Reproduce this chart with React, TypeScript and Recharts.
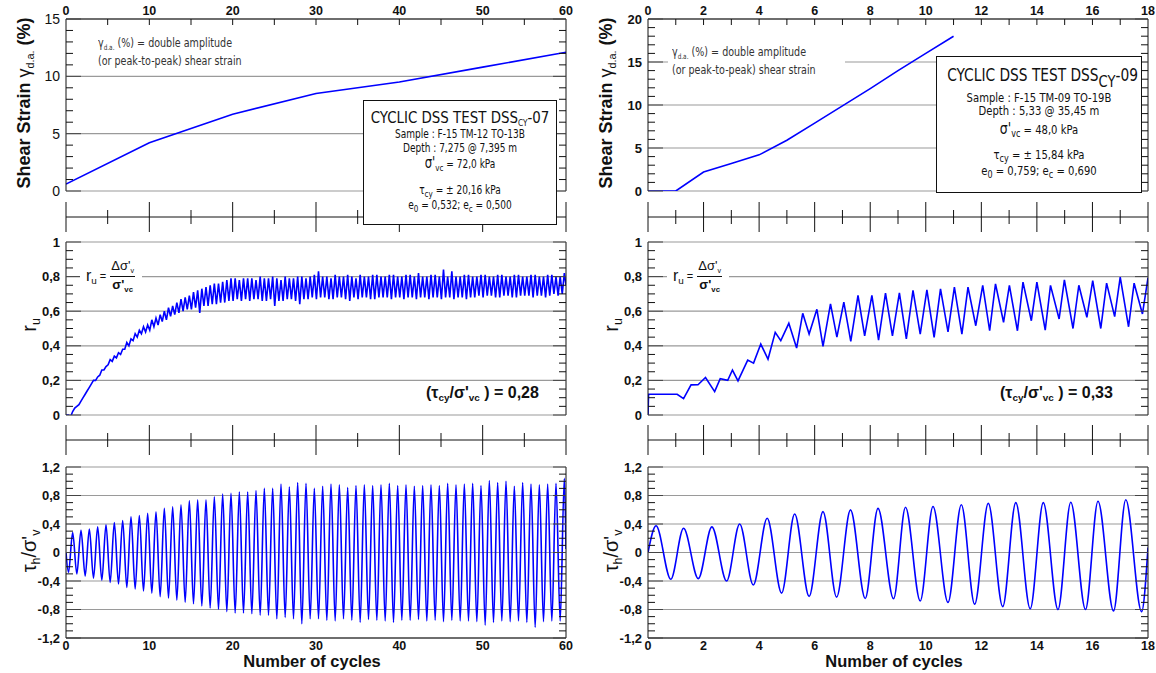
import React from "react";
import { LineChart, Line, XAxis, YAxis, CartesianGrid } from "recharts";

// ---------- DSS CY-07 (left) ----------
const strainCyclesL = [0, 10, 20, 30, 40, 50, 60];
const strainL = [0.6, 4.2, 6.7, 8.5, 9.5, 10.8, 12.1];

// r_u, two pulses per cycle: low (start of half cycle) and high (peak of half cycle)
const ruLowL = [
  0.0, -0.01, 0.04, 0.06, 0.1, 0.14, 0.18, 0.2, 0.23, 0.26,
  0.29, 0.31, 0.33, 0.35, 0.38, 0.4, 0.43, 0.45, 0.47, 0.48,
  0.49, 0.51, 0.52, 0.54, 0.55, 0.57, 0.58, 0.59, 0.6, 0.61,
  0.61, 0.62, 0.59, 0.63, 0.63, 0.64, 0.64, 0.65, 0.65, 0.66,
  0.66, 0.67, 0.66, 0.67, 0.66, 0.67, 0.67, 0.66, 0.66, 0.67,
  0.63, 0.66, 0.66, 0.67, 0.67, 0.66, 0.64, 0.67, 0.67, 0.68,
  0.67, 0.68, 0.68, 0.67, 0.67, 0.68, 0.68, 0.67, 0.66, 0.68,
  0.67, 0.68, 0.68, 0.67, 0.67, 0.68, 0.68, 0.68, 0.67, 0.68,
  0.68, 0.67, 0.68, 0.68, 0.67, 0.68, 0.68, 0.67, 0.68, 0.68,
  0.67, 0.68, 0.68, 0.67, 0.68, 0.68, 0.67, 0.68, 0.68, 0.69,
  0.68, 0.69, 0.69, 0.68, 0.68, 0.69, 0.69, 0.68, 0.68, 0.69,
  0.69, 0.69, 0.68, 0.69, 0.69, 0.68, 0.69, 0.7, 0.69, 0.7,
];
const ruHighL = [
  0.0, 0.02, 0.05, 0.08, 0.12, 0.16, 0.2, 0.22, 0.26, 0.28,
  0.32, 0.34, 0.36, 0.38, 0.42, 0.44, 0.47, 0.49, 0.51, 0.52,
  0.55, 0.56, 0.58, 0.6, 0.62, 0.63, 0.65, 0.67, 0.68, 0.69,
  0.71, 0.72, 0.73, 0.74, 0.75, 0.76, 0.76, 0.77, 0.78, 0.79,
  0.79, 0.78, 0.79, 0.79, 0.79, 0.78, 0.8, 0.79, 0.79, 0.8,
  0.79, 0.78, 0.8, 0.79, 0.79, 0.8, 0.8, 0.79, 0.8, 0.81,
  0.83, 0.8, 0.8, 0.79, 0.81, 0.8, 0.8, 0.81, 0.8, 0.79,
  0.81, 0.8, 0.8, 0.81, 0.81, 0.8, 0.8, 0.81, 0.81, 0.8,
  0.8, 0.81, 0.81, 0.8, 0.82, 0.8, 0.8, 0.81, 0.81, 0.8,
  0.84, 0.8, 0.83, 0.8, 0.8, 0.81, 0.81, 0.8, 0.8, 0.81,
  0.81, 0.8, 0.8, 0.81, 0.81, 0.8, 0.8, 0.81, 0.81, 0.8,
  0.8, 0.81, 0.81, 0.8, 0.8, 0.81, 0.81, 0.8, 0.8, 0.82,
];

// tau_h / sigma'_v, one trough and one peak per cycle
const tauTroughL = [
  -0.28, -0.3, -0.33, -0.36, -0.39, -0.42, -0.44, -0.49, -0.51, -0.54,
  -0.57, -0.62, -0.64, -0.67, -0.7, -0.72, -0.75, -0.78, -0.8, -0.83,
  -0.85, -0.85, -0.86, -0.88, -0.88, -0.93, -0.91, -0.93, -1.0, -0.93,
  -0.93, -0.95, -0.96, -0.93, -0.95, -0.98, -0.94, -0.95, -0.96, -0.98,
  -0.95, -0.95, -0.94, -0.96, -0.95, -0.97, -0.95, -0.96, -0.96, -0.97,
  -1.02, -0.98, -0.96, -0.97, -0.96, -0.98, -1.05, -0.97, -0.96, -0.96,
];
const tauPeakL = [
  0.28, 0.31, 0.33, 0.36, 0.39, 0.42, 0.45, 0.5, 0.52, 0.55,
  0.57, 0.62, 0.64, 0.67, 0.73, 0.74, 0.74, 0.78, 0.82, 0.83,
  0.85, 0.85, 0.87, 0.9, 0.9, 0.96, 0.92, 0.98, 0.97, 0.9,
  0.93, 0.96, 0.95, 0.91, 0.94, 0.95, 0.94, 0.95, 0.97, 0.94,
  0.95, 0.93, 0.94, 0.95, 0.94, 0.97, 0.95, 0.96, 0.97, 0.94,
  1.01, 0.98, 1.0, 0.93, 0.98, 0.96, 0.95, 0.96, 0.97, 1.04,
];

// ---------- DSS CY-09 (right) ----------
const strainCyclesR = [0, 1, 2, 3, 4, 5, 6, 7, 8, 9, 10, 11];
const strainR = [0, 0, 2.2, 3.2, 4.2, 5.9, 7.9, 9.9, 11.9, 14.0, 16.0, 18.0];

const ruR: [number, number][] = [
  [0, 0], [0.02, 0.12], [1.05, 0.12], [1.28, 0.095], [1.55, 0.174], [1.8, 0.175],
  [2.07, 0.217], [2.4, 0.135], [2.6, 0.21], [2.87, 0.2], [3.04, 0.26], [3.24, 0.197],
  [3.59, 0.317], [3.8, 0.3], [4.06, 0.41], [4.32, 0.323], [4.58, 0.478], [4.78, 0.43],
  [5.07, 0.53], [5.35, 0.387], [5.57, 0.588], [5.8, 0.468], [6.08, 0.611], [6.3, 0.397],
  [6.57, 0.642], [6.8, 0.45], [7.05, 0.652], [7.3, 0.426], [7.56, 0.692], [7.8, 0.458],
  [8.06, 0.692], [8.3, 0.433], [8.55, 0.704], [8.8, 0.458], [9.05, 0.706], [9.3, 0.44],
  [9.54, 0.72], [9.8, 0.468], [10.04, 0.723], [10.3, 0.449], [10.53, 0.729], [10.8, 0.48],
  [11.03, 0.739], [11.3, 0.468], [11.52, 0.739], [11.8, 0.516], [12.05, 0.749], [12.3, 0.487],
  [12.51, 0.758], [12.8, 0.536], [13.01, 0.749], [13.3, 0.487], [13.5, 0.768], [13.8, 0.545],
  [14.0, 0.768], [14.3, 0.49], [14.49, 0.749], [14.8, 0.555], [14.99, 0.781], [15.3, 0.5],
  [15.51, 0.75], [15.8, 0.565], [16.01, 0.777], [16.3, 0.5], [16.51, 0.762], [16.8, 0.569],
  [17.0, 0.797], [17.3, 0.51], [17.5, 0.762], [17.8, 0.584], [18.0, 0.793],
];

const tauPeakTimesR = [0.29, 1.28, 2.3, 3.3, 4.29, 5.28, 6.3, 7.29, 8.28, 9.27, 10.26, 11.28, 12.25, 13.24, 14.23, 15.22, 16.2, 17.2];
const tauPeakR = [0.376, 0.34, 0.36, 0.4, 0.48, 0.54, 0.574, 0.598, 0.62, 0.635, 0.645, 0.67, 0.69, 0.7, 0.7, 0.706, 0.72, 0.74];
const tauTroughTimesR = [0.82, 1.81, 2.83, 3.79, 4.81, 5.8, 6.79, 7.82, 8.84, 9.8, 10.8, 11.76, 12.77, 13.76, 14.76, 15.75, 16.76, 17.77];
const tauTroughR = [-0.376, -0.367, -0.4, -0.456, -0.57, -0.616, -0.626, -0.645, -0.65, -0.68, -0.7, -0.725, -0.76, -0.79, -0.8, -0.8, -0.82, -0.83];

// ---------- ticks ----------
const xLabelsL = [0, 10, 20, 30, 40, 50, 60];
const xMinorL = [5, 15, 25, 35, 45, 55];
const xLabelsR = [0, 2, 4, 6, 8, 10, 12, 14, 16, 18];
const xMinorR = [1, 3, 5, 7, 9, 11, 13, 15, 17];

const strainMajorL = [0, 5, 10, 15];
const strainMinorL = [1, 2, 3, 4, 6, 7, 8, 9, 11, 12, 13, 14];
const strainMajorR = [0, 5, 10, 15, 20];
const strainMinorR = [1, 2, 3, 4, 6, 7, 8, 9, 11, 12, 13, 14, 16, 17, 18, 19];
const ruMajor = [0, 0.2, 0.4, 0.6, 0.8, 1];
const ruMinor = [0.05, 0.1, 0.15, 0.25, 0.3, 0.35, 0.45, 0.5, 0.55, 0.65, 0.7, 0.75, 0.85, 0.9, 0.95];
const tauMajor = [-1.2, -0.8, -0.4, 0, 0.4, 0.8, 1.2];
const tauMinor = [-1.1, -1, -0.9, -0.7, -0.6, -0.5, -0.3, -0.2, -0.1, 0.1, 0.2, 0.3, 0.5, 0.6, 0.7, 0.9, 1, 1.1];

type Pt = { x: number; y: number };

const zip = (xs: number[], ys: number[]): Pt[] => xs.map((x, i) => ({ x, y: ys[i] }));

const strainDataL = zip(strainCyclesL, strainL);
const strainDataR = zip(strainCyclesR, strainR);

const ruDataL: Pt[] = [{ x: 0, y: 0 }];
ruLowL.forEach((lo, i) => {
  ruDataL.push({ x: i * 0.5 + 0.05, y: lo });
  ruDataL.push({ x: i * 0.5 + 0.3, y: ruHighL[i] });
});
ruDataL.push({ x: 60, y: 0.75 });

const ruDataR: Pt[] = ruR.map(([x, y]) => ({ x, y }));

const tauDataL: Pt[] = [{ x: 0, y: 0 }];
tauTroughL.forEach((t, k) => {
  tauDataL.push({ x: k + 0.3, y: t });
  tauDataL.push({ x: k + 0.8, y: tauPeakL[k] });
});
tauDataL.push({ x: 60, y: 0.05 });

const tauDataR: Pt[] = [{ x: 0, y: 0 }];
tauPeakR.forEach((p, k) => {
  tauDataR.push({ x: tauPeakTimesR[k], y: p });
  tauDataR.push({ x: tauTroughTimesR[k], y: tauTroughR[k] });
});
tauDataR.push({ x: 18, y: 0.07 });

// ---------- style ----------
const INK = "#111";
const GRID = "#9a9a9a";
const BLUE = "#0000ff";
const SANS = "'Liberation Sans', Arial, Helvetica, sans-serif";
const NARROW = "'DejaVu Sans Condensed', 'Liberation Sans Narrow', sans-serif";

const fmt = (v: number) => String(v).replace(".", ",");
const isIn = (arr: number[], v: number) => arr.some((m) => Math.abs(m - v) < 1e-6);
const merge = (a: number[], b: number[]) => [...a, ...b].sort((p, q) => p - q);

// tick marks drawn inward from the frame, labels only on the major values
function yTick(majors: number[], side: "left" | "right", label?: { size: number; weight: number }) {
  return (tp: any) => {
    const v = tp.payload.value as number;
    const major = isIn(majors, v);
    const d = side === "left" ? 1 : -1;
    const len = major ? (side === "left" ? 15 : 13) : 7;
    return (
      <g>
        <line x1={tp.x} x2={tp.x + d * len} y1={tp.y} y2={tp.y} stroke={major ? "#444" : INK} />
        {label && major && (
          <text x={tp.x - 6} y={tp.y} dy="0.36em" textAnchor="end" fontSize={label.size}
            fontWeight={label.weight} fontFamily={SANS} fill={INK}>
            {fmt(v)}
          </text>
        )}
      </g>
    );
  };
}

function xTopTick(labels: number[], xMax: number) {
  return (tp: any) => {
    const v = tp.payload.value as number;
    return (
      <g>
        {v > 0 && v < xMax && <line x1={tp.x} x2={tp.x} y1={tp.y} y2={tp.y + 6} stroke={INK} />}
        {isIn(labels, v) && (
          <text x={tp.x} y={tp.y - 4} textAnchor="middle" fontSize={12.5} fontWeight={700} fontFamily={SANS} fill={INK}>
            {fmt(v)}
          </text>
        )}
      </g>
    );
  };
}

type Margin = { top: number; right: number; bottom: number; left: number };

interface PanelProps {
  left: number;
  top: number;
  width: number;
  height: number;
  margin: Margin;
  data: Pt[];
  curve: "linear" | "monotone";
  xMax: number;
  xSide?: "top" | "bottom";
  xLabels: number[];
  xMinor: number[];
  yDomain: [number, number];
  yMajor: number[];
  yMinor: number[];
  yBold?: boolean;
}

function Panel(p: PanelProps) {
  const xDomain: [number, number] = [0, p.xMax];
  const yTicks = merge(p.yMajor, p.yMinor);
  const top = p.xSide === "top";
  return (
    <div style={{ position: "absolute", left: p.left, top: p.top }}>
      <LineChart width={p.width} height={p.height} data={p.data} margin={p.margin}>
        <CartesianGrid xAxisId="x" yAxisId="y" vertical={false} horizontalValues={p.yMajor} stroke={GRID} strokeWidth={1.2} />
        <XAxis
          xAxisId="x"
          dataKey="x"
          type="number"
          domain={xDomain}
          allowDataOverflow
          hide={!p.xSide}
          orientation={p.xSide ?? "bottom"}
          ticks={top ? merge(p.xLabels, p.xMinor) : p.xLabels}
          interval={0}
          height={top ? 19 : 30}
          tickFormatter={fmt}
          tickLine={false}
          tickSize={0}
          tickMargin={top ? 0 : 3}
          axisLine={{ stroke: INK }}
          tick={top ? xTopTick(p.xLabels, p.xMax) : { fontSize: 12.5, fontWeight: 700, fill: INK, fontFamily: SANS }}
        />
        <YAxis
          yAxisId="y"
          type="number"
          domain={p.yDomain}
          allowDataOverflow
          ticks={yTicks}
          interval={0}
          width={40}
          tickLine={false}
          tickSize={0}
          tickMargin={0}
          axisLine={{ stroke: INK }}
          tick={yTick(p.yMajor, "left", p.yBold === false ? { size: 14, weight: 400 } : { size: 13, weight: 700 })}
        />
        <YAxis
          yAxisId="yr"
          orientation="right"
          type="number"
          domain={p.yDomain}
          allowDataOverflow
          ticks={yTicks}
          interval={0}
          width={1}
          tickLine={false}
          tickSize={0}
          tickMargin={0}
          axisLine={{ stroke: INK }}
          tick={yTick(p.yMajor, "right")}
        />
        <Line
          xAxisId="x"
          yAxisId="y"
          dataKey="y"
          type={p.curve}
          stroke={BLUE}
          strokeWidth={1.6}
          dot={false}
          isAnimationActive={false}
        />
      </LineChart>
    </div>
  );
}

// the "+" tick band between two stacked panels
function TickStrip({ left, top, width, margin, xMax, major, minor }: {
  left: number; top: number; width: number; margin: { left: number; right: number };
  xMax: number; major: number[]; minor: number[];
}) {
  const ticks = merge(major, minor);
  const data = ticks.map((c) => ({ c }));
  return (
    <div style={{ position: "absolute", left, top }}>
      <LineChart width={width} height={34} data={data} margin={{ top: 17, bottom: 15, left: margin.left, right: margin.right }}>
        <XAxis
          dataKey="c"
          type="number"
          domain={[0, xMax]}
          allowDataOverflow
          orientation="bottom"
          height={1}
          ticks={ticks}
          interval={0}
          tickLine={false}
          tickSize={0}
          tickMargin={0}
          axisLine={{ stroke: INK }}
          tick={(tp: any) => {
            const L = isIn(major, tp.payload.value) ? 15 : 7;
            return <line x1={tp.x} x2={tp.x} y1={tp.y - L} y2={tp.y + L} stroke={INK} />;
          }}
        />
        <YAxis hide domain={[0, 1]} />
      </LineChart>
    </div>
  );
}

const Sub = ({ children, size = 0.62 }: { children: React.ReactNode; size?: number }) => (
  <span style={{ fontSize: `${size}em`, position: "relative", top: "0.35em" }}>{children}</span>
);

const abs = (left: number, top: number): React.CSSProperties => ({ position: "absolute", left, top });

function VTitle({ cx, cy, children, style }: { cx: number; cy: number; children: React.ReactNode; style?: React.CSSProperties }) {
  return (
    <div
      style={{
        position: "absolute",
        left: cx,
        top: cy,
        transform: "translate(-50%, -50%) rotate(-90deg)",
        whiteSpace: "nowrap",
        fontFamily: SANS,
        color: INK,
        lineHeight: 1,
        ...style,
      }}
    >
      {children}
    </div>
  );
}

function InfoBox({ left, top, width, height, title, rows, bodySize, squeeze }: {
  left: number; top: number; width: number; height: number;
  title: { y: number; node: React.ReactNode; size: number; squeeze: number };
  rows: { y: number; node: React.ReactNode }[];
  bodySize: number; squeeze: number;
}) {
  const line = (y: number, node: React.ReactNode, size: number, sx: number, key: string) => (
    <div key={key} style={{
      position: "absolute", left: 0, width: "100%", top: y - 10, height: 20, lineHeight: "20px",
      textAlign: "center", fontSize: size, whiteSpace: "nowrap", transform: `scaleX(${sx})`,
    }}>
      {node}
    </div>
  );
  return (
    <div style={{ ...abs(left, top), width, height, border: `1px solid ${INK}`, background: "#fff", fontFamily: NARROW, color: INK, boxSizing: "border-box" }}>
      {line(title.y, title.node, title.size, title.squeeze, "t")}
      {rows.map((r, i) => line(r.y, r.node, bodySize, squeeze, `r${i}`))}
    </div>
  );
}

function RuFormula({ left, top }: { left: number; top: number }) {
  return (
    <div style={{ ...abs(left, top), background: "#fff", padding: "0 6px", display: "flex", alignItems: "center", fontFamily: SANS, color: INK }}>
      <span style={{ fontSize: 16 }}>r<Sub>u</Sub></span>
      <span style={{ fontSize: 11, margin: "0 3px" }}>=</span>
      <span style={{ display: "inline-flex", flexDirection: "column", alignItems: "center", fontSize: 13, lineHeight: "15px" }}>
        <span style={{ padding: "0 2px" }}>Δσ'<Sub size={0.55}>v</Sub></span>
        <span style={{ borderTop: `1px solid ${INK}`, padding: "0 2px", fontWeight: 700 }}>σ'<Sub size={0.6}>vc</Sub></span>
      </span>
    </div>
  );
}

function Ratio({ left, top, value }: { left: number; top: number; value: string }) {
  return (
    <div style={{ ...abs(left, top), fontFamily: SANS, fontWeight: 700, fontSize: 16, color: INK, whiteSpace: "nowrap" }}>
      (τ<Sub>cy</Sub>/σ'<Sub>vc</Sub> ) = {value}
    </div>
  );
}

function Gamma({ left, top, bg }: { left: number; top: number; bg?: boolean }) {
  return (
    <div style={{ ...abs(left, top), fontFamily: NARROW, fontSize: 12.5, lineHeight: "16px", color: "#333", background: bg ? "#fff" : "transparent", padding: "0 4px" }}>
      <div style={{ transform: "scaleX(0.85)", transformOrigin: "left center", whiteSpace: "nowrap" }}>
        γ<Sub size={0.6}>d.a.</Sub> (%) = double amplitude
      </div>
      <div style={{ transform: "scaleX(0.85)", transformOrigin: "left center", whiteSpace: "nowrap" }}>
        (or peak-to-peak) shear strain
      </div>
    </div>
  );
}

export default function App() {
  const mL = { left: 26, right: 13 };
  const mR = { left: 28, right: 7 };
  return (
    <div style={{ position: "absolute", left: 0, top: 0, width: 1156, height: 673, background: "#fff", overflow: "hidden" }}>
      {/* left column */}
      <Panel left={0} top={0} width={580} height={200} margin={{ top: 0, bottom: 9, ...mL }} data={strainDataL} curve="linear"
        xMax={60} xSide="top" xLabels={xLabelsL} xMinor={xMinorL} yDomain={[0, 15]} yMajor={strainMajorL} yMinor={strainMinorL} yBold={false} />
      <TickStrip left={0} top={199} width={580} margin={{ left: 66, right: 14 }} xMax={60} major={xLabelsL} minor={xMinorL} />
      <Panel left={0} top={230} width={580} height={200} margin={{ top: 12, bottom: 15, ...mL }} data={ruDataL} curve="linear"
        xMax={60} xLabels={xLabelsL} xMinor={xMinorL} yDomain={[0, 1]} yMajor={ruMajor} yMinor={ruMinor} />
      <TickStrip left={0} top={422} width={580} margin={{ left: 66, right: 14 }} xMax={60} major={xLabelsL} minor={xMinorL} />
      <Panel left={0} top={455} width={580} height={218} margin={{ top: 12, bottom: 5, ...mL }} data={tauDataL} curve="monotone"
        xMax={60} xSide="bottom" xLabels={xLabelsL} xMinor={xMinorL} yDomain={[-1.2, 1.2]} yMajor={tauMajor} yMinor={tauMinor} />

      {/* right column */}
      <Panel left={580} top={0} width={576} height={200} margin={{ top: 0, bottom: 9, ...mR }} data={strainDataR} curve="linear"
        xMax={18} xSide="top" xLabels={xLabelsR} xMinor={xMinorR} yDomain={[0, 20]} yMajor={strainMajorR} yMinor={strainMinorR} />
      <TickStrip left={580} top={199} width={576} margin={{ left: 68, right: 8 }} xMax={18} major={xLabelsR} minor={xMinorR} />
      <Panel left={580} top={230} width={576} height={200} margin={{ top: 12, bottom: 15, ...mR }} data={ruDataR} curve="linear"
        xMax={18} xLabels={xLabelsR} xMinor={xMinorR} yDomain={[0, 1]} yMajor={ruMajor} yMinor={ruMinor} />
      <TickStrip left={580} top={422} width={576} margin={{ left: 68, right: 8 }} xMax={18} major={xLabelsR} minor={xMinorR} />
      <Panel left={580} top={455} width={576} height={218} margin={{ top: 12, bottom: 5, ...mR }} data={tauDataR} curve="monotone"
        xMax={18} xSide="bottom" xLabels={xLabelsR} xMinor={xMinorR} yDomain={[-1.2, 1.2]} yMajor={tauMajor} yMinor={tauMinor} />

      {/* annotations */}
      <Gamma left={94} top={35} />
      <Gamma left={668} top={44} bg />
      <RuFormula left={80} top={258} />
      <RuFormula left={667} top={258} />
      <Ratio left={426} top={384} value="0,28" />
      <Ratio left={1000} top={384} value="0,33" />

      <InfoBox left={363} top={100} width={194} height={125} bodySize={11.5} squeeze={0.87}
        title={{ y: 17, size: 16, squeeze: 0.93, node: <>CYCLIC DSS TEST DSS<Sub size={0.55}>CY</Sub>-07</> }}
        rows={[
          { y: 33, node: <>Sample : F-15 TM-12 TO-13B</> },
          { y: 47, node: <>Depth : 7,275 @ 7,395 m</> },
          { y: 62, node: <><span style={{ fontSize: 15 }}>σ'</span><Sub size={0.8}>vc</Sub> = 72,0 kPa</> },
          { y: 89, node: <>τ<Sub size={0.8}>cy</Sub> = ± 20,16 kPa</> },
          { y: 104, node: <>e<Sub size={0.8}>0</Sub> = 0,532; e<Sub size={0.8}>c</Sub> = 0,500</> },
        ]} />
      <InfoBox left={936} top={56} width={206} height={137} bodySize={12} squeeze={0.93}
        title={{ y: 18, size: 17, squeeze: 0.9, node: <>CYCLIC DSS TEST DSS<Sub size={0.95}>CY</Sub>-09</> }}
        rows={[
          { y: 41, node: <>Sample : F-15 TM-09 TO-19B</> },
          { y: 54, node: <>Depth : 5,33 @ 35,45 m</> },
          { y: 72, node: <><span style={{ fontSize: 15 }}>σ'</span><Sub size={0.8}>vc</Sub> = 48,0 kPa</> },
          { y: 98, node: <>τ<Sub size={0.8}>cy</Sub> = ± 15,84 kPa</> },
          { y: 114, node: <>e<Sub size={0.8}>0</Sub> = 0,759; e<Sub size={0.8}>c</Sub> = 0,690</> },
        ]} />

      {/* axis titles */}
      <VTitle cx={24} cy={103} style={{ fontSize: 18, fontWeight: 700 }}>
        Shear Strain <span style={{ fontWeight: 400 }}>γ<Sub size={0.6}>d.a.</Sub></span> (%)
      </VTitle>
      <VTitle cx={606} cy={103} style={{ fontSize: 18, fontWeight: 700 }}>
        Shear Strain <span style={{ fontWeight: 400 }}>γ<Sub size={0.6}>d.a.</Sub></span> (%)
      </VTitle>
      <VTitle cx={29} cy={325} style={{ fontSize: 20 }}>r<Sub>u</Sub></VTitle>
      <VTitle cx={611} cy={325} style={{ fontSize: 20 }}>r<Sub>u</Sub></VTitle>
      <VTitle cx={29} cy={551} style={{ fontSize: 20 }}>τ<Sub>h</Sub>/σ'<Sub>v</Sub></VTitle>
      <VTitle cx={611} cy={551} style={{ fontSize: 20 }}>τ<Sub>h</Sub>/σ'<Sub>v</Sub></VTitle>
      <div style={{ ...abs(312, 652), transform: "translateX(-50%)", fontFamily: SANS, fontWeight: 700, fontSize: 16.5, whiteSpace: "nowrap", color: INK }}>
        Number of cycles
      </div>
      <div style={{ ...abs(894, 652), transform: "translateX(-50%)", fontFamily: SANS, fontWeight: 700, fontSize: 16.5, whiteSpace: "nowrap", color: INK }}>
        Number of cycles
      </div>
    </div>
  );
}
